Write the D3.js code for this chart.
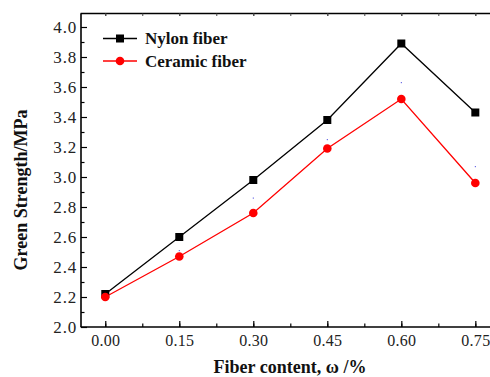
<!DOCTYPE html>
<html>
<head>
<meta charset="utf-8">
<script src="https://cdn.jsdelivr.net/npm/d3@7"></script>
<style>
  body { margin: 0; background: #fff; }
  svg { display: block; }
  svg text { font-family: "Liberation Serif", "Times New Roman", Times, serif; }
</style>
</head>
<body>
<svg id="chart" width="490" height="377"></svg>
<script>
// data
const fiberContent = [0.00, 0.15, 0.30, 0.45, 0.60, 0.75];
const nylonStrength = [2.22, 2.60, 2.98, 3.38, 3.89, 3.43];
const ceramicStrength = [2.20, 2.47, 2.76, 3.19, 3.52, 2.96];
const ceramicErrTop = [2.22, 2.51, 2.86, 3.25, 3.63, 3.07]; // tiny blue dots left of the error bars
const xTicks = [0.00, 0.15, 0.30, 0.45, 0.60, 0.75];
const yTicks = [2.0, 2.2, 2.4, 2.6, 2.8, 3.0, 3.2, 3.4, 3.6, 3.8, 4.0];
const seriesNames = ['Nylon fiber', 'Ceramic fiber'];

const svg = d3.select('#chart');

const plotLeft = 81, plotTop = 13.5, plotBottom = 327;

const x = d3.scaleLinear().domain([-0.05, 0.80]).range([80.6, 500]);
const y = d3.scaleLinear().domain([2.0, 4.09]).range([plotBottom, plotTop]);

const xMinor = d3.range(-0.075, 0.80, 0.075).filter(v => v > -0.05);
const yMinor = d3.range(2.1, 4.09, 0.2);

// frame
const frame = svg.append('g').attr('stroke', '#000').attr('fill', 'none');
frame.append('line').attr('x1', x(-0.05)).attr('x2', 495).attr('y1', plotTop).attr('y2', plotTop).attr('stroke-width', 1.6);
frame.append('line').attr('x1', x(-0.05)).attr('x2', 495).attr('y1', plotBottom).attr('y2', plotBottom).attr('stroke-width', 1.6);
frame.append('line').attr('x1', plotLeft).attr('x2', plotLeft).attr('y1', plotTop).attr('y2', plotBottom).attr('stroke-width', 1.6);

// inward ticks: bottom axis
svg.append('g')
    .attr('transform', `translate(0,${plotBottom})`)
    .call(d3.axisBottom(x).tickValues(xTicks).tickSizeInner(-6).tickSizeOuter(0).tickPadding(8).tickFormat(d3.format('.2f')))
    .call(g => g.select('.domain').remove())
    .call(g => g.selectAll('line').attr('stroke-width', 1.2))
    .call(g => g.selectAll('text').attr('font-size', 16).attr('fill', '#222').attr('letter-spacing', 0.3));

svg.append('g')
    .attr('transform', `translate(0,${plotBottom})`)
    .call(d3.axisBottom(x).tickValues(xMinor).tickSize(-3.5).tickFormat(''))
    .call(g => g.select('.domain').remove())
    .call(g => g.selectAll('line').attr('stroke-width', 1.2));

// top axis ticks (short, pointing down)
svg.append('g')
    .attr('transform', `translate(0,${plotTop})`)
    .call(d3.axisTop(x).tickValues(xTicks.concat(xMinor)).tickSize(-2.5).tickFormat(''))
    .call(g => g.select('.domain').remove())
    .call(g => g.selectAll('line').attr('stroke', '#444'));

// left axis
svg.append('g')
    .attr('transform', `translate(${plotLeft},0)`)
    .call(d3.axisLeft(y).tickValues(yTicks).tickSizeInner(-6).tickSizeOuter(0).tickPadding(4).tickFormat(d3.format('.1f')))
    .call(g => g.select('.domain').remove())
    .call(g => g.selectAll('line').attr('stroke-width', 1.2))
    .call(g => g.selectAll('text').attr('font-size', 17).attr('fill', '#222').attr('letter-spacing', 0.8));

svg.append('g')
    .attr('transform', `translate(${plotLeft},0)`)
    .call(d3.axisLeft(y).tickValues(yMinor).tickSize(-3.5).tickFormat(''))
    .call(g => g.select('.domain').remove())
    .call(g => g.selectAll('line').attr('stroke-width', 1.2));

// series
const nylon = fiberContent.map((v, i) => [v, nylonStrength[i]]);
const ceramic = fiberContent.map((v, i) => [v, ceramicStrength[i]]);
const line = d3.line().x(d => x(d[0])).y(d => y(d[1]));

// blue error remnants
svg.selectAll('rect.err')
    .data(fiberContent.map((v, i) => [v, ceramicErrTop[i]]))
    .enter()
    .append('rect')
    .attr('class', 'err')
    .attr('x', d => x(d[0]) - 0.5)
    .attr('y', d => y(d[1]) - 0.5)
    .attr('width', 1)
    .attr('height', 1.2)
    .attr('fill', '#5050e0');

svg.append('path').datum(nylon).attr('d', line).attr('fill', 'none').attr('stroke', '#000').attr('stroke-width', 1.3);
svg.append('path').datum(ceramic).attr('d', line).attr('fill', 'none').attr('stroke', '#ff0000').attr('stroke-width', 1.3);

svg.selectAll('rect.nylon')
    .data(nylon)
    .enter()
    .append('rect')
    .attr('class', 'nylon')
    .attr('x', d => x(d[0]) - 4)
    .attr('y', d => y(d[1]) - 4)
    .attr('width', 8)
    .attr('height', 8)
    .attr('fill', '#000');

svg.selectAll('circle.ceramic')
    .data(ceramic)
    .enter()
    .append('circle')
    .attr('class', 'ceramic')
    .attr('cx', d => x(d[0]))
    .attr('cy', d => y(d[1]))
    .attr('r', 4.3)
    .attr('fill', '#ff0000');

// legend
const legend = svg.append('g');
const legY = [38.5, 61];
const legColors = ['#000', '#ff0000'];
seriesNames.forEach((name, i) => {
    legend.append('line')
        .attr('x1', 103).attr('x2', 137)
        .attr('y1', legY[i]).attr('y2', legY[i])
        .attr('stroke', legColors[i]).attr('stroke-width', 1.3);
    if (i === 0) {
        legend.append('rect').attr('x', 116).attr('y', legY[i] - 4).attr('width', 8).attr('height', 8).attr('fill', '#000');
    } else {
        legend.append('circle').attr('cx', 120).attr('cy', legY[i]).attr('r', 4.3).attr('fill', '#ff0000');
    }
    legend.append('text')
        .attr('x', 145)
        .attr('y', legY[i] + 5.5)
        .attr('font-size', 17)
        .attr('font-weight', 'bold')
        .attr('fill', '#111')
        .text(name);
});

// axis titles
svg.append('text')
    .attr('transform', 'translate(27,190) rotate(-90)')
    .attr('text-anchor', 'middle')
    .attr('font-size', 18)
    .attr('font-weight', 'bold')
    .attr('fill', '#111')
    .text('Green Strength/MPa');

svg.append('text')
    .attr('x', 290)
    .attr('y', 373)
    .attr('text-anchor', 'middle')
    .attr('font-size', 18)
    .attr('font-weight', 'bold')
    .attr('fill', '#111')
    .text('Fiber content,  ω /%');
</script>
</body>
</html>
